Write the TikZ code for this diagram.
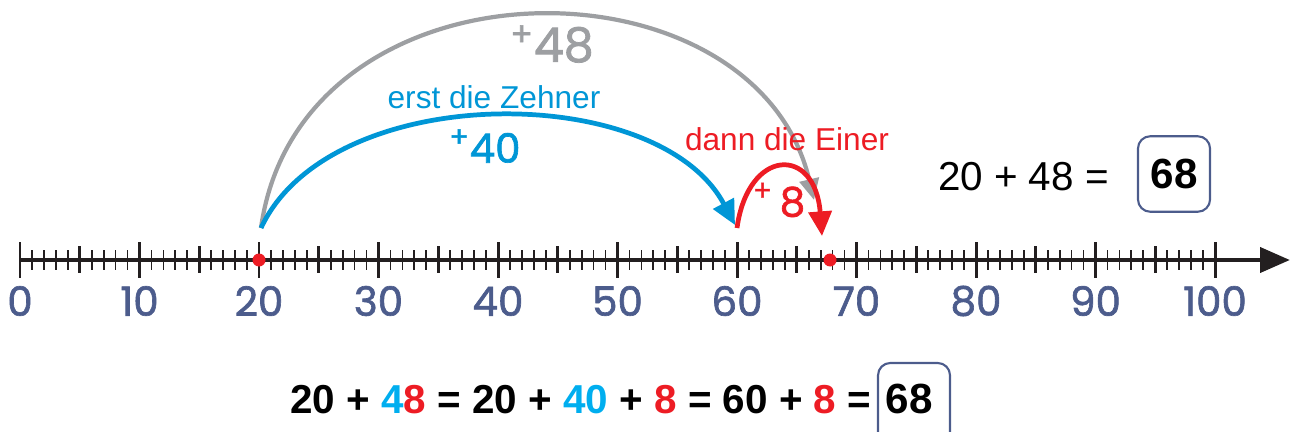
\documentclass[tikz,border=0pt]{standalone}
\usepackage{fontspec}
\setmainfont{Liberation Sans}
\newfontfamily\handfont[FakeBold=1.6]{Poppins}
\usepackage{tikz}
\usetikzlibrary{arrows.meta}
\definecolor{jumpgray}{HTML}{9D9FA2}
\definecolor{jumpblue}{HTML}{0096D6}
\definecolor{eqcyan}{HTML}{00AEEF}
\definecolor{jumpred}{HTML}{ED1C24}
\definecolor{numblue}{HTML}{4C5C8C}
\definecolor{linegray}{HTML}{231F20}

\begin{document}
\begin{tikzpicture}[x=0.02cm,y=-0.02cm,
    axisline/.style={linegray, line width=2.8pt, -{Triangle[length=17pt,width=14pt]}},
    jump/.style={line width=2.7pt, -{Triangle[length=14pt,width=13pt]}},
    numlab/.style={text=numblue, font=\handfont\fontsize{23}{23}\selectfont},
    hand/.style={font=\handfont\fontsize{#1}{#1}\selectfont},
    resbox/.style={draw=numblue, line width=1.2pt, rounded corners=7pt}]
    \useasboundingbox (0,0) rectangle (1290,432);

    % number line
    \coordinate (n0) at (20,260);
    \coordinate (tip) at (1290,260);
    \draw [axisline] (n0) -- (tip);
    \foreach \i in {0,...,100} {
        \pgfmathsetmacro{\xx}{20+11.95*\i}
        \pgfmathtruncatemacro{\rten}{mod(\i,10)}
        \pgfmathtruncatemacro{\rfive}{mod(\i,5)}
        \ifnum\rten=0
            \draw [linegray, line width=1.7pt] (\xx,242) -- (\xx,278);
        \else\ifnum\rfive=0
            \draw [linegray, line width=1.5pt] (\xx,246) -- (\xx,273);
        \else
            \draw [linegray, line width=1pt] (\xx,250) -- (\xx,270);
        \fi\fi
    }
    \foreach \n in {0,10,...,100}
        \node [numlab] (lab\n) at ({20+11.95*\n},301) {\n};

    % start and end of the jumps
    \fill [jumpred] (259,260) circle (3.7pt);
    \fill [jumpred] (830,260) circle (3.7pt);
    \coordinate (s20) at (261,228);
    \coordinate (e60) at (735,225);
    \coordinate (s60) at (737,228);
    \coordinate (e68) at (822,236);
    \coordinate (g68) at (814,200);

    % +48 in one go
    \draw [jump, jumpgray, line width=2.4pt, -{Triangle[length=12pt,width=11pt]}]
        (s20) .. controls (300,-50) and (755,-50) .. (g68);
    \node [hand=27, text=jumpgray] (plusall) at (552,44) {\textsuperscript{+}48};

    % tens first
    \draw [jump, jumpblue] (s20) .. controls (330,80) and (658,80) .. (e60);
    \node [text=jumpblue, font=\fontsize{18}{18}\selectfont] (tens) at (494,97) {erst die Zehner};
    \node [hand=23, text=jumpblue] (plustens) at (485,146) {\textsuperscript{+}40};

    % then the ones
    \draw [jump, jumpred] (s60) .. controls (748,148) and (815,145) .. (e68);
    \node [text=jumpred, font=\fontsize{18}{18}\selectfont] (ones) at (787,139) {dann die Einer};
    \node [hand=23, text=jumpred] (plusones) at (779,200) {\textsuperscript{+}\,8};

    % result on the right
    \node [anchor=east, font=\fontsize{23}{23}\selectfont] (sumright) at (1115,177) {20 + 48 =};
    \node [resbox, font=\bfseries\fontsize{24}{24}\selectfont,
        inner sep=0pt, minimum width=41pt, minimum height=43pt] (resright) at (1174,174) {68};

    % equation below
    \node [anchor=base west, inner sep=0pt, font=\bfseries\fontsize{23}{23}\selectfont] (sumlow) at (290,413)
        {20 + \textcolor{eqcyan}{4}\textcolor{jumpred}{8} = 20 + \textcolor{eqcyan}{40} + \textcolor{jumpred}{8} = 60 + \textcolor{jumpred}{8} =};
    \draw [resbox] (878,445) -- (878,363) -- (950,363) -- (950,445);
    \node [anchor=base, font=\bfseries\fontsize{24}{24}\selectfont] (reslow) at (909,413) {68};
\end{tikzpicture}
\end{document}
